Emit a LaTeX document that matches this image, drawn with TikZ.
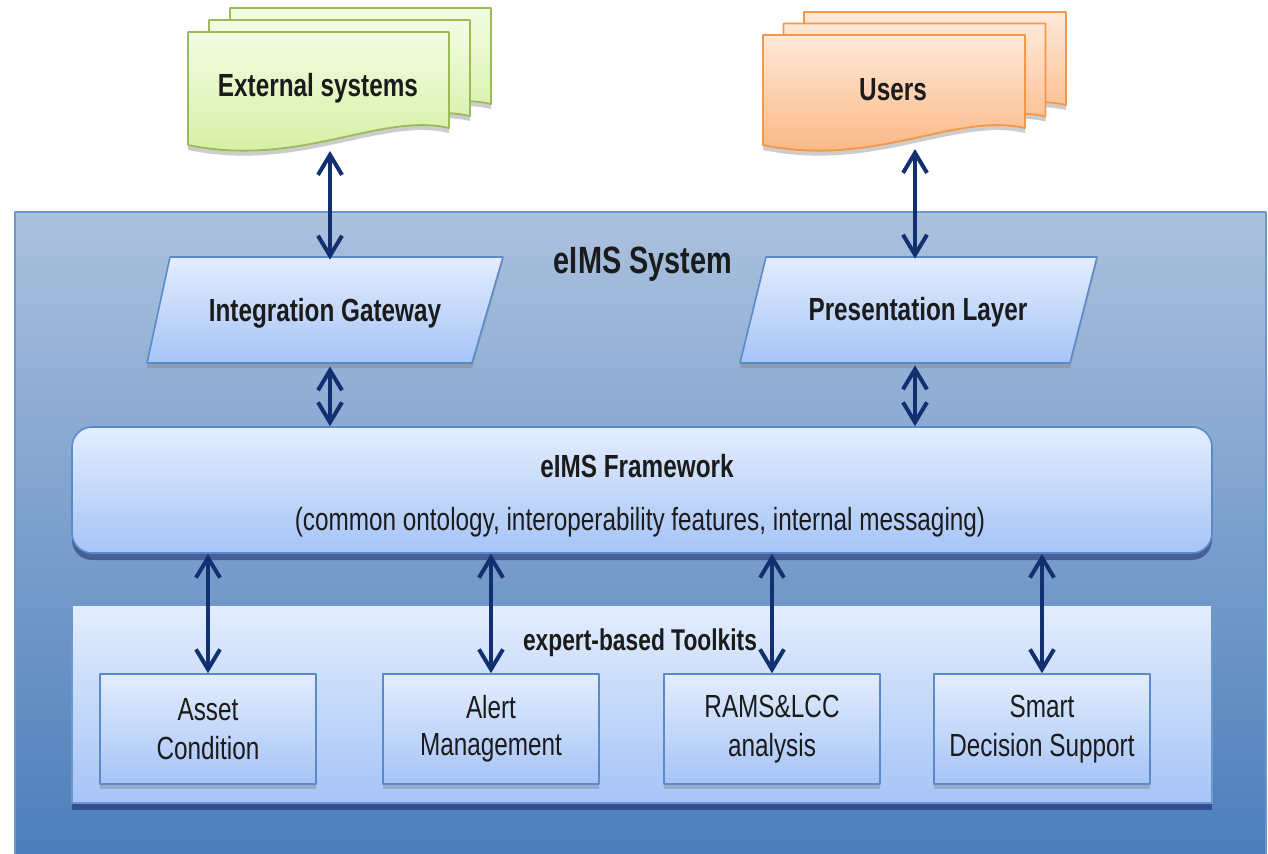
\documentclass[tikz,border=0pt]{standalone}
\usepackage{fontspec}
\setmainfont{Liberation Sans}[FakeStretch=0.76]
\usetikzlibrary{arrows.meta,shadows}
\definecolor{navy}{HTML}{12306F}
\definecolor{systop}{HTML}{ABC1DE}
\definecolor{sysbot}{HTML}{4A7CBA}
\definecolor{sysline}{HTML}{6E97CC}
\definecolor{boxtop}{HTML}{E3EDFD}
\definecolor{boxbot}{HTML}{A6C4F7}
\definecolor{boxline}{HTML}{5B8ACB}
\definecolor{greentop}{HTML}{F3FCE4}
\definecolor{greenbot}{HTML}{D2EF9C}
\definecolor{greenline}{HTML}{9BBB59}
\definecolor{orangetop}{HTML}{FEE9DA}
\definecolor{orangebot}{HTML}{FBB27A}
\definecolor{orangeline}{HTML}{F79646}
\definecolor{txt}{HTML}{1B1B1B}
\begin{document}
\begin{tikzpicture}[x=0.5pt,y=-0.5pt,line join=round,text=txt,
  font=\fontsize{16}{19}\selectfont,
  link/.style={{Straight Barb[length=10pt,width=12pt]}-{Straight Barb[length=10pt,width=12pt]},draw=navy,line width=2pt},
  shgray/.style={drop shadow={shadow xshift=0pt,shadow yshift=-2.5pt,opacity=.4}},
  shdark/.style={drop shadow={shadow xshift=0pt,shadow yshift=-3.5pt,fill=black!70!blue,opacity=.4}},
  bluefill/.style={draw=boxline,line width=0.8pt,top color=boxtop,bottom color=boxbot},
  docgreen/.style={draw=greenline,line width=0.9pt,top color=greentop,bottom color=greenbot,shgray},
  docorange/.style={draw=orangeline,line width=0.9pt,top color=orangetop,bottom color=orangebot,shgray},
  gate/.style={rectangle,minimum height=53pt,inner sep=0pt,font=\fontsize{16}{19}\selectfont\bfseries},
  tool/.style={rectangle,bluefill,shgray,minimum width=108pt,minimum height=55pt,align=center,inner sep=0pt},
  bold/.style={font=\fontsize{16}{19}\selectfont\bfseries}]
\useasboundingbox (0,0) rectangle (1268,853);

% eIMS system
\draw[draw=sysline,line width=0.8pt,top color=systop,bottom color=sysbot] (15,212) rectangle (1266,870);
\node (systitle) [font=\fontsize{19}{22}\selectfont\bfseries] at (643,264) {eIMS System};

% external systems and users
\foreach \s in {2,1,0}
  \draw[docgreen,shift={(\s*21,-\s*12)}] (188,32) -- (449,32) -- (449,128)
    .. controls (380,112) and (300,168) .. (188,145) -- cycle;
\foreach \s in {2,1,0}
  \draw[docorange,shift={(\s*20.5,-\s*11.5)}] (763,35) -- (1025,35) -- (1025,128)
    .. controls (955,112) and (875,168) .. (763,145) -- cycle;
\node (ext) [bold] at (318,88) {External systems};
\node (users) [bold] at (893,90) {Users};
\coordinate (extb) at (330,151);
\coordinate (usersb) at (915,149);

% gateway and presentation
\draw[bluefill,shgray] (170,257) -- (503,257) -- (472,363) -- (147,363) -- cycle;
\draw[bluefill,shgray] (766,257) -- (1097,257) -- (1070,363) -- (740,363) -- cycle;
\node (gw) [gate] at (325,313) {Integration Gateway};
\node (pl) [gate] at (918,312) {Presentation Layer};

% framework
\node (fw) [rectangle,rounded corners=10pt,bluefill,shdark,minimum width=570pt,minimum height=63pt] at (642,490) {};
\node (fwtitle) [bold] at (637,466) {eIMS Framework};
\node (fwnote) at (640,522) {(common ontology, interoperability features, internal messaging)};

% toolkits
\node (kits) [rectangle,bluefill,draw=sysline,shdark,minimum width=570pt,minimum height=99pt] at (642,704) {};
\node (kitstitle) [font=\fontsize{15}{18}\selectfont\bfseries] at (640,643) {expert-based Toolkits};
\node (asset) [tool] at (208,729) {\raisebox{-4pt}{\shortstack{Asset\\[4.5pt]Condition}}};
\node (alert) [tool] at (491,729) {\raisebox{-4pt}{\shortstack{Alert\\[4.5pt]Management}}};
\node (rams) [tool] at (772,729) {\raisebox{-4pt}{\shortstack{RAMS\&LCC\\[4.5pt]analysis}}};
\node (smart) [tool] at (1042,729) {\raisebox{-4pt}{\shortstack{Smart\\[4.5pt]Decision Support}}};

\draw[link] (extb) -- (extb |- gw.north);
\draw[link] (usersb) -- (usersb |- pl.north);
\draw[link] (gw.south -| extb) -- (extb |- fw.north);
\draw[link] (pl.south -| usersb) -- (usersb |- fw.north);
\foreach \t in {asset,alert,rams,smart}
  \draw[link] (\t.north |- fw.south) -- (\t.north);
\end{tikzpicture}
\end{document}
